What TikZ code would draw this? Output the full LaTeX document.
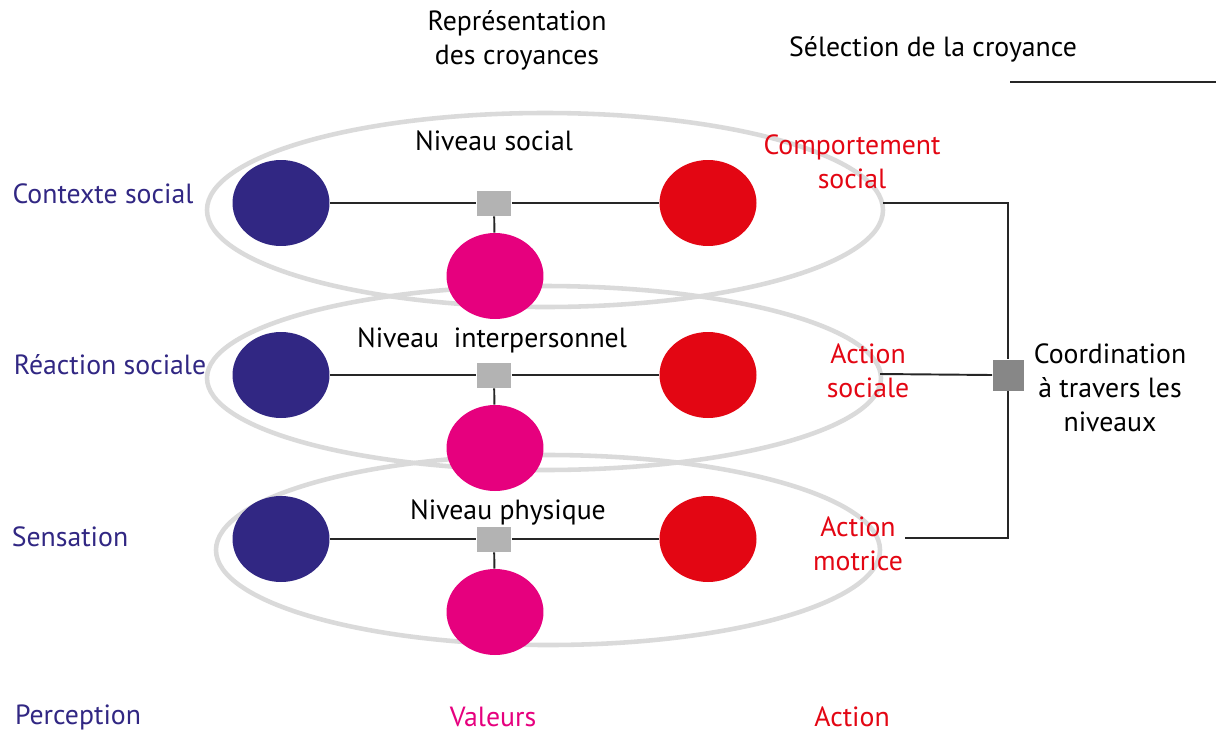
\documentclass[tikz,border=0pt]{standalone}
\usepackage{fontspec}
\setmainfont{PT Sans}
\usetikzlibrary{shapes.geometric}
\definecolor{percblue}{HTML}{312783}
\definecolor{valpink}{HTML}{E6007E}
\definecolor{actred}{HTML}{E30613}
\definecolor{ringgray}{HTML}{DADADA}
\definecolor{hubgray}{HTML}{B3B3B3}
\definecolor{coordgray}{HTML}{878787}
\tikzset{
  belief/.style={ellipse, minimum width=1.94cm, minimum height=1.72cm, inner sep=0pt},
  hub/.style={fill=hubgray, draw=white, line width=0.4pt, minimum width=0.7cm, minimum height=0.52cm, inner sep=0pt},
  link/.style={line width=1.1pt, draw=black!85},
  ring/.style={draw=ringgray, line width=2.6pt},
  lbl/.style={font=\fontsize{15.8}{19.5}\selectfont, align=center, inner sep=0pt}
}
\begin{document}
\begin{tikzpicture}[x=0.02cm, y=-0.02cm]
        \useasboundingbox (0,0) rectangle (1216,751);
        % niveaux
        \draw[ring] (545,210) ellipse [x radius=338, y radius=97];
        \draw[ring] (544,378) ellipse [x radius=337, y radius=92];
        \draw[ring] (548,550) ellipse [x radius=332, y radius=95];
        % titres
        \node[lbl] (repr) at (517,40) {Représentation\\des croyances};
        \node[lbl] (select) at (933,49) {Sélection de la croyance};
        \coordinate (selA) at (1010,82);
        \coordinate (selB) at (1216,82);
        \draw[link] (selA) -- (selB);
        % trois niveaux
        \foreach \n/\y in {1/203, 2/375, 3/539} {
          \node[belief, fill=percblue] (perc\n) at (281,\y) {};
          \node[belief, fill=actred] (act\n) at (708,\y) {};
          \node[hub] (hub\n) at (494,\y) {};
          \node[belief, fill=valpink] (val\n) at (495,\y+73) {};
          \draw[link] (perc\n) -- (hub\n) -- (act\n);
          \draw[link] (hub\n) -- (val\n);
        }
        \node[lbl] (niv1) at (494,141) {Niveau social};
        \node[lbl] (niv2) at (492,340) {Niveau \ interpersonnel};
        \node[lbl] (niv3) at (508,512) {Niveau physique};
        % entrees
        \node[lbl, text=percblue] (in1) at (103,194) {Contexte social};
        \node[lbl, text=percblue] (in2) at (110,365) {Réaction sociale};
        \node[lbl, text=percblue] (in3) at (70,537) {Sensation};
        % sorties
        \node[lbl, text=actred] (out1) at (852,162) {Comportement\\social};
        \node[lbl, text=actred] (out2) at (868,371) {Action\\sociale};
        \node[lbl, text=actred] (out3) at (858,544) {Action\\motrice};
        % coordination
        \node[fill=coordgray, minimum size=0.62cm, inner sep=0pt] (coord) at (1008,375) {};
        \node[lbl] (coordtxt) at (1110,388) {Coordination\\à travers les\\niveaux};
        \coordinate (c1) at (883,203);
        \coordinate (c2) at (880,374);
        \coordinate (c3) at (905,538);
        \draw[link] (c1) -| (coord.north);
        \draw[link] (c3) -| (coord.south);
        \draw[link] (c2) -- (coord.west);
        % legende
        \node[lbl, text=percblue] (leg1) at (78,717) {Perception};
        \node[lbl, text=valpink] (leg2) at (493,717) {Valeurs};
        \node[lbl, text=actred] (leg3) at (852,717) {Action};
      \end{tikzpicture}
\end{document}
